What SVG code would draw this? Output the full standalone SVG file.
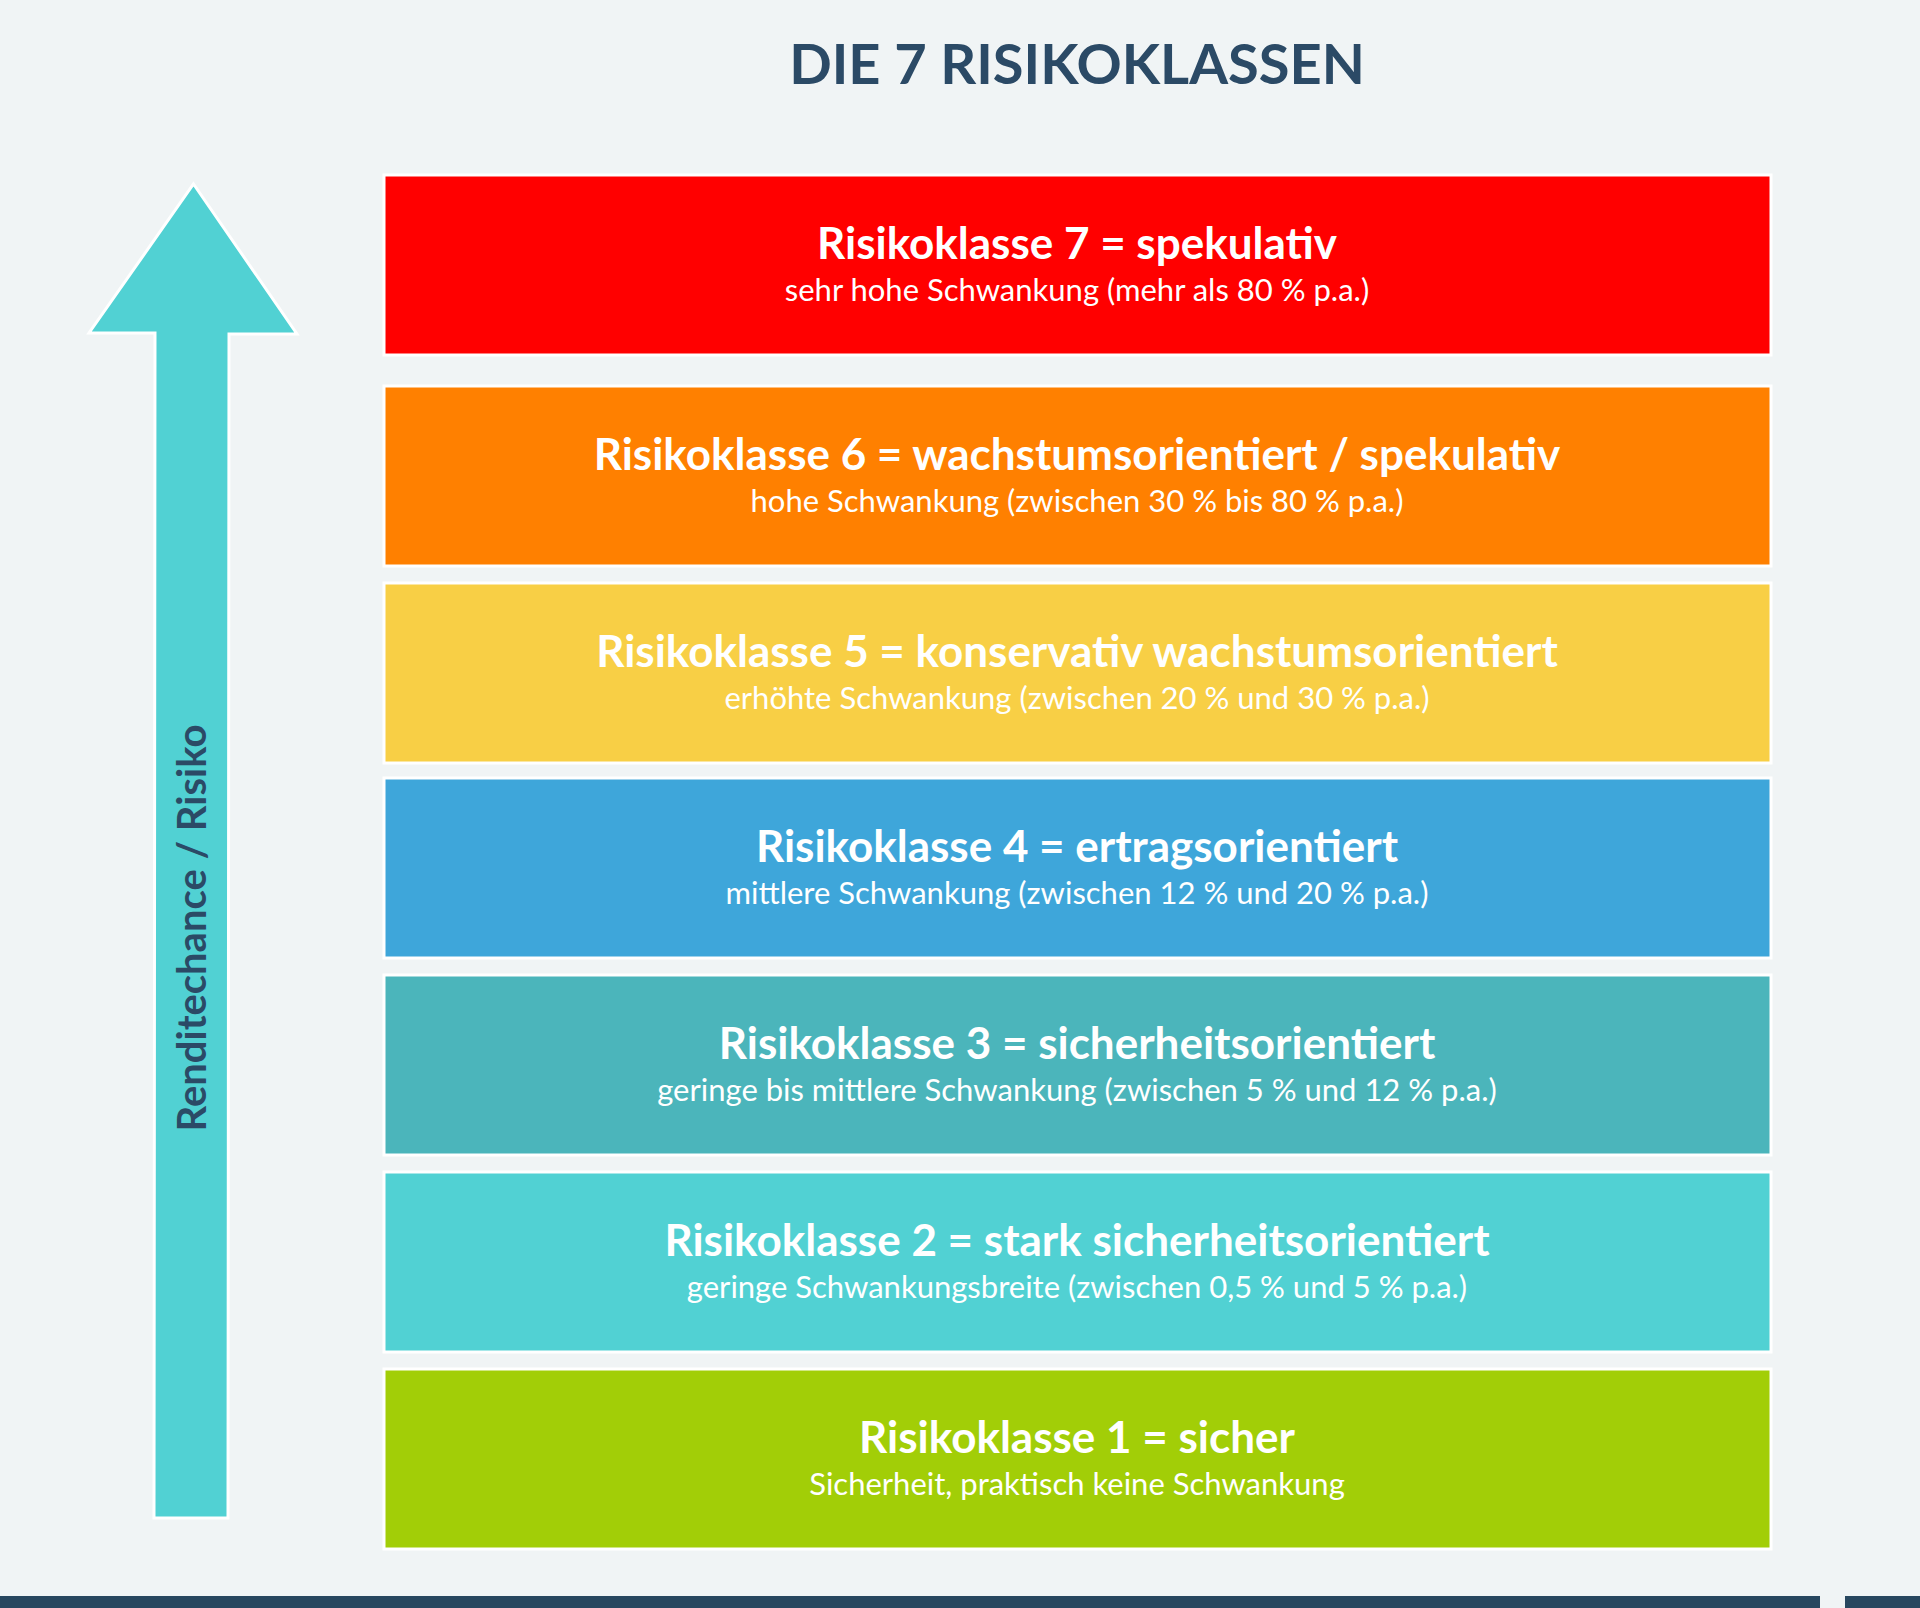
<svg xmlns="http://www.w3.org/2000/svg" width="1920" height="1608" viewBox="0 0 1920 1608">
<style>
.band{stroke:#ffffff;stroke-width:3}
.t{font-family:Lato,"Liberation Sans",sans-serif;font-weight:bold;font-size:44px;fill:#ffffff;text-anchor:middle}
.s{font-family:Lato,"Liberation Sans",sans-serif;font-size:31px;fill:#ffffff;text-anchor:middle}
</style>
<rect width="1920" height="1608" fill="#f0f4f5"/>
<text x="1077" y="84" font-family="Lato, 'Liberation Sans', sans-serif" font-weight="bold" font-size="56" fill="#2b4a66" text-anchor="middle">DIE 7 RISIKOKLASSEN</text>
<g id="arrow">
<polygon points="193.5,184 297,334 229,334 228,1518 154,1518 155,333 89,333" fill="#51d1d3" stroke="#ffffff" stroke-width="3"/>
<text transform="translate(206,928) rotate(-90)" font-family="Lato, 'Liberation Sans', sans-serif" font-weight="bold" font-size="40" fill="#2b4a66" text-anchor="middle">Renditechance / Risiko</text>
</g>
<g id="k7"><rect class="band" x="384" y="175" width="1387" height="180" fill="#ff0000"/>
<text class="t" x="1077" y="259">Risikoklasse 7 = spekulativ</text>
<text class="s" x="1077" y="301">sehr hohe Schwankung (mehr als 80 % p.a.)</text></g>
<g id="k6"><rect class="band" x="384" y="386" width="1387" height="180" fill="#ff8000"/>
<text class="t" x="1077" y="470">Risikoklasse 6 = wachstumsorientiert / spekulativ</text>
<text class="s" x="1077" y="512">hohe Schwankung (zwischen 30 % bis 80 % p.a.)</text></g>
<g id="k5"><rect class="band" x="384" y="583" width="1387" height="180" fill="#f8cf45"/>
<text class="t" x="1077" y="667">Risikoklasse 5 = konservativ wachstumsorientiert</text>
<text class="s" x="1077" y="709">erhöhte Schwankung (zwischen 20 % und 30 % p.a.)</text></g>
<g id="k4"><rect class="band" x="384" y="778" width="1387" height="180" fill="#3ea6da"/>
<text class="t" x="1077" y="862">Risikoklasse 4 = ertragsorientiert</text>
<text class="s" x="1077" y="904">mittlere Schwankung (zwischen 12 % und 20 % p.a.)</text></g>
<g id="k3"><rect class="band" x="384" y="975" width="1387" height="180" fill="#4bb5bb"/>
<text class="t" x="1077" y="1059">Risikoklasse 3 = sicherheitsorientiert</text>
<text class="s" x="1077" y="1101">geringe bis mittlere Schwankung (zwischen 5 % und 12 % p.a.)</text></g>
<g id="k2"><rect class="band" x="384" y="1172" width="1387" height="180" fill="#51d1d3"/>
<text class="t" x="1077" y="1256">Risikoklasse 2 = stark sicherheitsorientiert</text>
<text class="s" x="1077" y="1298">geringe Schwankungsbreite (zwischen 0,5 % und 5 % p.a.)</text></g>
<g id="k1"><rect class="band" x="384" y="1369" width="1387" height="180" fill="#a2ce07"/>
<text class="t" x="1077" y="1453">Risikoklasse 1 = sicher</text>
<text class="s" x="1077" y="1495">Sicherheit, praktisch keine Schwankung</text></g>
<g id="footer">
<rect x="0" y="1596" width="1820" height="12" fill="#27475f"/>
<rect x="1845" y="1596" width="75" height="12" fill="#27475f"/>
</g>
</svg>
